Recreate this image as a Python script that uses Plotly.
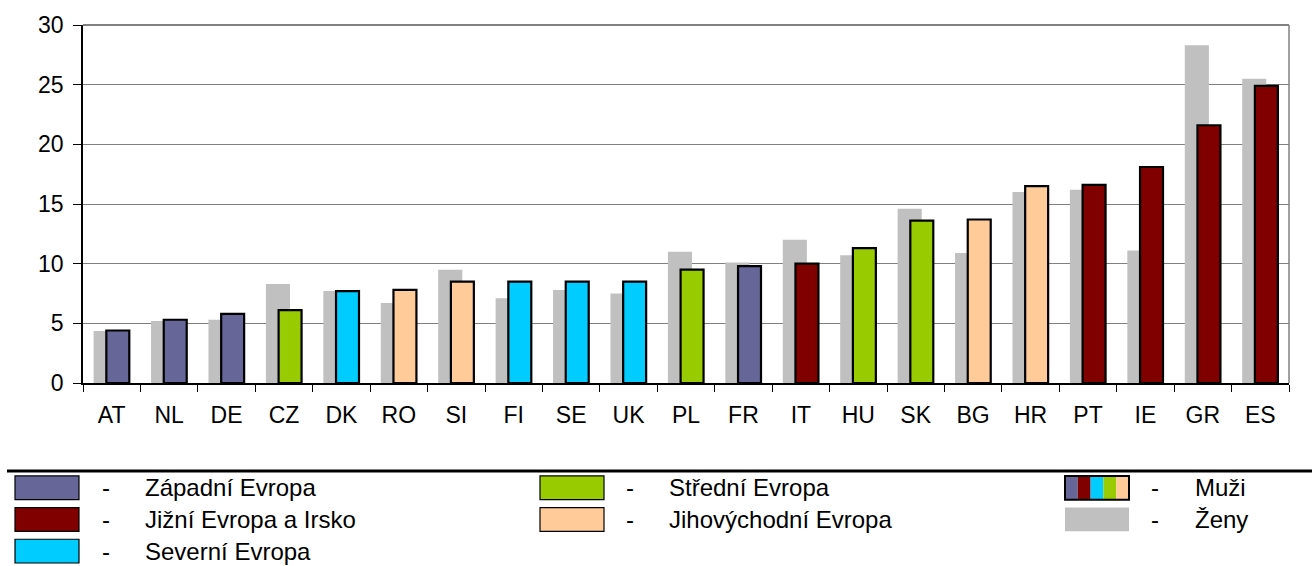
import plotly.graph_objects as go

# Country codes, ordered by the men's value
countries = ["AT", "NL", "DE", "CZ", "DK", "RO", "SI", "FI", "SE", "UK", "PL",
             "FR", "IT", "HU", "SK", "BG", "HR", "PT", "IE", "GR", "ES"]

# Region of each country
regions = ["W", "W", "W", "C", "N", "SE", "SE", "N", "N", "N", "C",
           "W", "S", "C", "C", "SE", "SE", "S", "S", "S", "S"]

# Values for men (Muži) and women (Ženy)
men = [4.4, 5.3, 5.8, 6.1, 7.7, 7.8, 8.5, 8.5, 8.5, 8.5, 9.5,
       9.8, 10.0, 11.3, 13.6, 13.7, 16.5, 16.6, 18.1, 21.6, 24.9]
women = [4.35, 5.2, 5.3, 8.3, 7.7, 6.7, 9.5, 7.1, 7.8, 7.5, 11.0,
         10.1, 12.0, 10.7, 14.6, 10.9, 16.0, 16.2, 11.1, 28.3, 25.5]

# Region names shown in the key
region_names = {
    "W": "Západní Evropa",
    "S": "Jižní Evropa a Irsko",
    "N": "Severní Evropa",
    "C": "Střední Evropa",
    "SE": "Jihovýchodní Evropa",
}
series_names = ["Muži", "Ženy"]

region_colors = {"W": "#666699", "S": "#800000", "N": "#00CCFF",
                 "C": "#99CC00", "SE": "#FFCC99"}
women_color = "#C0C0C0"

FONT = "Liberation Sans, Arial, sans-serif"
TICK_FS = 23
KEY_FS = 24

fig = go.Figure()

fig.add_trace(go.Bar(
    x=countries, y=women, name=series_names[1],
    marker=dict(color=women_color, line=dict(width=0)),
    width=0.42, offset=-0.315, showlegend=False,
))
fig.add_trace(go.Bar(
    x=countries, y=men, name=series_names[0],
    marker=dict(color=[region_colors[r] for r in regions],
                line=dict(color="#000000", width=2.2)),
    width=0.40, offset=-0.094, showlegend=False,
))

# Plot area in pixels
L, R, T, B = 83, 1289, 21, 383
W, H = R - L, B - T


def px(x):
    return (x - L) / W


def py(y):
    return (B - y) / H


shapes = []
annotations = []

# Plot area border (right and top)
shapes.append(dict(type="line", xref="paper", yref="paper", x0=1, x1=1, y0=0, y1=1,
                   line=dict(color="#808080", width=1.5)))
shapes.append(dict(type="line", xref="paper", yref="paper", x0=0, x1=1, y0=1, y1=1,
                   line=dict(color="#808080", width=2)))

# Key: separator line
shapes.append(dict(type="line", xref="paper", yref="paper",
                   x0=px(7), x1=px(1312), y0=py(472), y1=py(472),
                   line=dict(color="#000000", width=3)))

row_y = [489, 521, 553]
sw_w, sw_h = 64, 24
columns = [
    (15, 106, 143, ["W", "S", "N"]),
    (540, 630, 667, ["C", "SE"]),
]


def add_entry(dx, tx, cy, text):
    annotations.append(dict(xref="paper", yref="paper", x=px(dx), y=py(cy),
                            text="-", showarrow=False, xanchor="center",
                            yanchor="middle",
                            font=dict(family=FONT, size=KEY_FS, color="#000")))
    annotations.append(dict(xref="paper", yref="paper", x=px(tx), y=py(cy),
                            text=text, showarrow=False, xanchor="left",
                            yanchor="middle",
                            font=dict(family=FONT, size=KEY_FS, color="#000")))


for sx, dx, tx, keys in columns:
    for i, k in enumerate(keys):
        cy = row_y[i]
        shapes.append(dict(type="rect", xref="paper", yref="paper",
                           x0=px(sx), x1=px(sx + sw_w),
                           y0=py(cy + sw_h / 2), y1=py(cy - sw_h / 2),
                           fillcolor=region_colors[k],
                           line=dict(color="#000000", width=1.2)))
        add_entry(dx, tx, cy, region_names[k])

# Men: striped swatch with every region colour
sx, dx, tx = 1065, 1155, 1193
stripe_keys = ["W", "S", "N", "C", "SE"]
stripe_w = sw_w / len(stripe_keys)
cy = row_y[0]
for j, k in enumerate(stripe_keys):
    shapes.append(dict(type="rect", xref="paper", yref="paper",
                       x0=px(sx + j * stripe_w), x1=px(sx + (j + 1) * stripe_w),
                       y0=py(cy + sw_h / 2), y1=py(cy - sw_h / 2),
                       fillcolor=region_colors[k], line=dict(width=0)))
shapes.append(dict(type="rect", xref="paper", yref="paper",
                   x0=px(sx), x1=px(sx + sw_w),
                   y0=py(cy + sw_h / 2), y1=py(cy - sw_h / 2),
                   line=dict(color="#000000", width=2)))
add_entry(dx, tx, cy, series_names[0])

# Women: plain grey swatch
cy = row_y[1]
shapes.append(dict(type="rect", xref="paper", yref="paper",
                   x0=px(sx), x1=px(sx + sw_w),
                   y0=py(cy + sw_h / 2), y1=py(cy - sw_h / 2),
                   fillcolor=women_color, line=dict(width=0)))
add_entry(dx, tx, cy, series_names[1])

fig.update_layout(
    width=1312, height=566,
    margin=dict(l=L, r=1312 - R, t=T, b=566 - B, pad=0),
    paper_bgcolor="white", plot_bgcolor="white",
    barmode="overlay",
    font=dict(family=FONT, size=TICK_FS, color="#000"),
    shapes=shapes, annotations=annotations,
    xaxis=dict(
        type="category", showgrid=False, showline=True, linecolor="#000",
        linewidth=1.5, ticks="outside", tickson="boundaries", ticklen=7,
        tickcolor="#000", tickwidth=1.2, tickfont=dict(family=FONT, size=TICK_FS),
        range=[-0.5, len(countries) - 0.5], ticklabelstandoff=11,
    ),
    yaxis=dict(
        range=[0, 30], dtick=5, showgrid=True, gridcolor="#808080",
        gridwidth=1.2, zeroline=False, showline=True, linecolor="#000",
        linewidth=1.5, ticks="outside", ticklen=8, tickcolor="#000",
        tickwidth=1.2, tickfont=dict(family=FONT, size=TICK_FS),
        ticklabelstandoff=5,
    ),
)

fig.write_html("out.html")
